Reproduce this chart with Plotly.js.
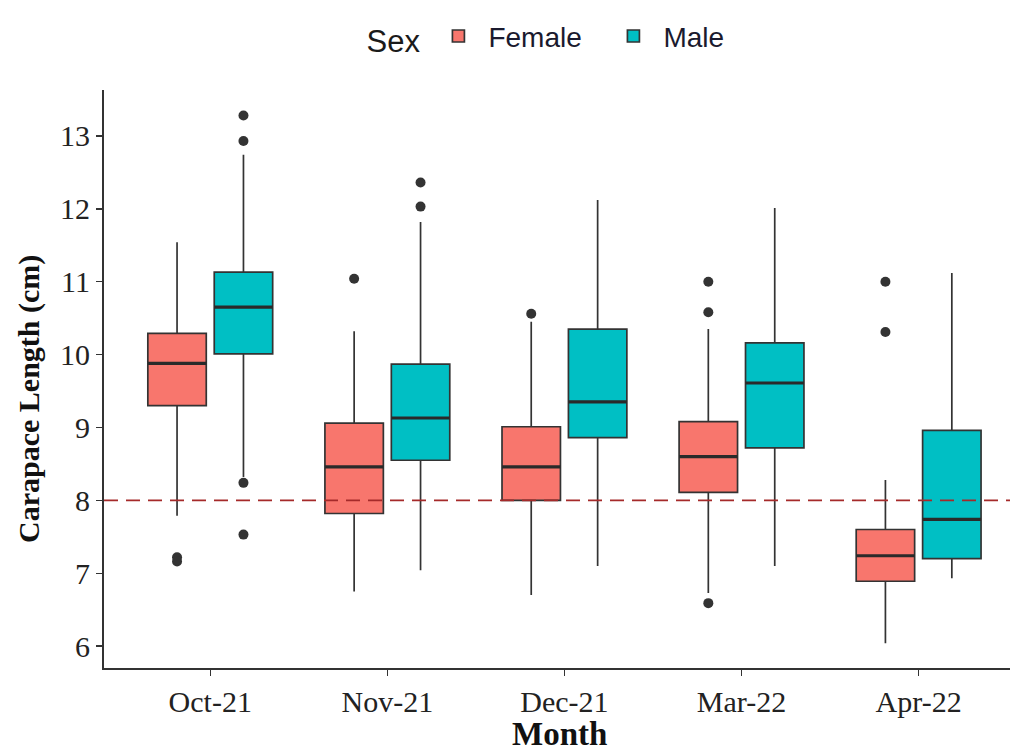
<!DOCTYPE html>
<html>
<head>
<meta charset="utf-8">
<script src="https://cdn.plot.ly/plotly-3.0.1.min.js"></script>
<style>html,body{margin:0;padding:0;background:#fff;}#chart{width:1010px;height:756px;}</style>
</head>
<body>
<div id="chart"></div>
<script>
// ---- data ----
const months = ['Oct-21', 'Nov-21', 'Dec-21', 'Mar-22', 'Apr-22'];
const sexes = ['Female', 'Male'];

const femaleQ1     = [9.30, 7.82, 8.00, 8.11, 6.89];
const femaleMedian = [9.88, 8.46, 8.46, 8.60, 7.24];
const femaleQ3     = [10.29, 9.06, 9.01, 9.08, 7.60];
const femaleLower  = [7.79, 6.75, 6.70, 6.73, 6.04];
const femaleUpper  = [11.54, 10.32, 10.45, 10.35, 8.28];
const femaleOutliers = [[7.22, 7.16], [11.04], [10.56], [11.00, 10.58, 6.59], [11.00, 10.31]];

const maleQ1     = [10.01, 8.55, 8.86, 8.72, 7.20];
const maleMedian = [10.65, 9.13, 9.35, 9.61, 7.74];
const maleQ3     = [11.13, 9.87, 10.35, 10.16, 8.96];
const maleLower  = [8.32, 7.04, 7.10, 7.10, 6.93];
const maleUpper  = [12.74, 11.82, 12.12, 12.01, 11.12];
const maleOutliers = [[13.28, 12.93, 8.24, 7.53], [12.36, 12.03], [], [], []];

const thresholdLength = 8;
const xTitle = 'Month';
const yTitle = 'Carapace Length (cm)';

// ---- styling ----
const fillColors = ['#F8766D', '#00BFC4'];
const dodge = 0.1875;
const boxWidth = 0.33;
const lineCol = '#333333';

const groups = [
  {q1: femaleQ1, med: femaleMedian, q3: femaleQ3, lo: femaleLower, hi: femaleUpper, out: femaleOutliers},
  {q1: maleQ1, med: maleMedian, q3: maleQ3, lo: maleLower, hi: maleUpper, out: maleOutliers}
];

const traces = [];
groups.forEach((g, gi) => {
  const off = gi === 0 ? -dodge : dodge;
  const xs = months.map((m, i) => i + off);
  traces.push({
    type: 'box',
    name: sexes[gi],
    x: xs,
    q1: g.q1, median: g.med, q3: g.q3,
    lowerfence: g.lo, upperfence: g.hi,
    boxpoints: false,
    width: boxWidth,
    whiskerwidth: 0,
    fillcolor: fillColors[gi],
    line: {color: lineCol, width: 1.7},
    hoverinfo: 'skip'
  });
});

// thicker median lines
groups.forEach((g, gi) => {
  const off = gi === 0 ? -dodge : dodge;
  const mx = [], my = [];
  months.forEach((m, i) => {
    mx.push(i + off - boxWidth / 2, i + off + boxWidth / 2, null);
    my.push(g.med[i], g.med[i], null);
  });
  traces.push({type: 'scatter', mode: 'lines', x: mx, y: my, showlegend: false,
    line: {color: '#2a2a2a', width: 3.2}, hoverinfo: 'skip'});
});

// outliers
groups.forEach((g, gi) => {
  const off = gi === 0 ? -dodge : dodge;
  const ox = [], oy = [];
  g.out.forEach((arr, i) => arr.forEach(v => { ox.push(i + off); oy.push(v); }));
  traces.push({type: 'scatter', mode: 'markers', x: ox, y: oy, showlegend: false,
    marker: {color: '#333333', size: 10}, hoverinfo: 'skip'});
});

const serif = 'Liberation Serif, Times New Roman, serif';
const sans = 'Liberation Sans, Arial, sans-serif';
const layout = {
  width: 1010, height: 756,
  margin: {l: 104, r: 0, t: 90, b: 88},
  paper_bgcolor: '#ffffff', plot_bgcolor: '#ffffff',
  showlegend: true,
  legend: {
    orientation: 'h', x: 0.516, xanchor: 'center', y: 1.092, yanchor: 'middle',
    font: {family: sans, size: 28, color: '#1a1a2e'},
    title: {text: 'Sex', side: 'left', font: {family: sans, size: 31, color: '#1a1a1a'}},
    itemwidth: 50,
    entrywidth: 110, entrywidthmode: 'pixels'
  },
  xaxis: {
    range: [-0.6, 4.516],
    tickmode: 'array', tickvals: months.map((m, i) => i), ticktext: months,
    showgrid: false, zeroline: false,
    showline: true, linecolor: lineCol, linewidth: 2,
    ticks: 'outside', ticklen: 6, tickwidth: 1.5, tickcolor: lineCol,
    tickfont: {family: serif, size: 30, color: '#222'}
  },
  yaxis: {
    range: [5.70, 13.63],
    tickmode: 'linear', tick0: 6, dtick: 1,
    showgrid: false, zeroline: false,
    showline: true, linecolor: lineCol, linewidth: 2,
    ticks: 'outside', ticklen: 6, tickwidth: 1.5, tickcolor: lineCol,
    tickfont: {family: serif, size: 30, color: '#222'}
  },
  annotations: [{
    text: '<b>' + yTitle + '</b>', textangle: -90,
    xref: 'paper', x: -0.082, xanchor: 'center',
    yref: 'paper', y: 0.465, yanchor: 'middle',
    showarrow: false,
    font: {family: serif, size: 30, color: '#111'}
  }, {
    text: '<b>' + xTitle + '</b>',
    xref: 'paper', x: 0.503, xanchor: 'center',
    yref: 'paper', y: -0.1488, yanchor: 'bottom',
    showarrow: false,
    font: {family: serif, size: 33, color: '#111'}
  }],
  shapes: [{
    type: 'line', xref: 'paper', x0: 0, x1: 1, yref: 'y', y0: thresholdLength, y1: thresholdLength,
    line: {color: '#A52A2A', width: 1.6, dash: '14px,8px'}, layer: 'above'
  }]
};

Plotly.newPlot('chart', traces, layout, {staticPlot: true, displayModeBar: false});
</script>
</body>
</html>
